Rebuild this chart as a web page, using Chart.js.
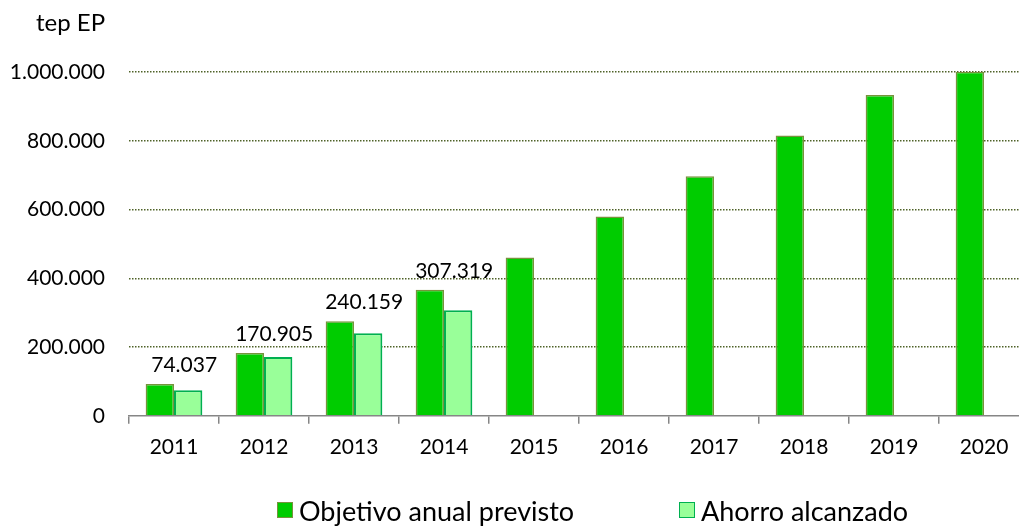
<!DOCTYPE html>
<html>
<head>
<meta charset="utf-8">
<script src="https://cdn.jsdelivr.net/npm/chart.js@4.4.1/dist/chart.umd.min.js"></script>
<style>
    body { margin: 0; background: #fff; overflow: hidden; }
    #wrap { position: relative; width: 1040px; height: 526px; }
    #unit { position: absolute; left: 36px; top: 7px; font: 24px Lato, sans-serif; color: #000; }
    .leg { position: absolute; top: 493px; height: 34px; display: flex; align-items: center; font: 27px Lato, sans-serif; line-height: 1; color: #000; white-space: nowrap; }
    .leg span.box { display: inline-block; width: 14px; height: 14px; margin-right: 6px; box-sizing: content-box; }
</style>
</head>
<body>
<div id="wrap">
    <canvas id="ahorroChart"></canvas>
    <div id="unit">tep EP</div>
    <div class="leg" id="leg0" style="left:277px"></div>
    <div class="leg" id="leg1" style="left:679px"></div>
</div>
<script>
// años del plan
const years = ['2011', '2012', '2013', '2014', '2015', '2016', '2017', '2018', '2019', '2020'];
// objetivo anual previsto (tep EP)
const objetivo = [92600, 183000, 275000, 367000, 460500, 580000, 697000, 815000, 933000, 1001000];
// ahorro alcanzado (tep EP)
const alcanzado = [74037, 170905, 240159, 307319, null, null, null, null, null, null];
const yTicks = [0, 200000, 400000, 600000, 800000, 1000000];

const fmt = v => String(v).replace(/\B(?=(\d{3})+(?!\d))/g, '.');

const valueLabels = {
    id: 'valueLabels',
    afterDatasetsDraw(chart) {
        const ctx = chart.ctx;
        const m0 = chart.getDatasetMeta(0);
        const m1 = chart.getDatasetMeta(1);
        ctx.save();
        ctx.font = '21px Lato';
        ctx.fillStyle = '#000';
        ctx.textAlign = 'center';
        ctx.textBaseline = 'alphabetic';
        for (var i = 0; i < alcanzado.length; i++) {
            if (alcanzado[i] == null) continue;
            ctx.fillText(fmt(alcanzado[i]), m1.data[i].x - 4, m0.data[i].y - 12);
        }
        ctx.restore();
    }
};

var ctx = document.getElementById('ahorroChart').getContext('2d');
var chart = new Chart(ctx, {
    type: 'bar',
    data: {
        labels: years,
        datasets: [{
            label: 'Objetivo anual previsto',
            data: objetivo,
            backgroundColor: '#00CC00',
            borderColor: '#77933C',
            borderWidth: 1.5
        },
        {
            label: 'Ahorro alcanzado',
            data: alcanzado,
            backgroundColor: '#99FF99',
            borderColor: '#00B050',
            borderWidth: 2
        }]
    },
    options: {
        responsive: true,
        maintainAspectRatio: false,
        animation: false,
        categoryPercentage: 0.63,
        barPercentage: 1,
        layout: { padding: { top: 72, right: 11, bottom: 55, left: 0 } },
        plugins: { legend: { display: false }, tooltip: { enabled: false } },
        scales: {
            x: {
                grid: { drawOnChartArea: false, color: '#868686', tickLength: 8, lineWidth: 1.5 },
                border: { color: '#868686', width: 1.5 },
                ticks: { color: '#000', font: { family: 'Lato', size: 21 }, padding: 11 }
            },
            y: {
                min: 0,
                max: 1000000,
                afterBuildTicks: scale => { scale.ticks = yTicks.map(v => ({ value: v })); },
                afterFit: scale => { scale.width = 129; },
                border: { display: false, dash: [1.5, 1.5] },
                grid: {
                    drawTicks: false,
                    color: c => c.tick.value === 0 ? 'rgba(0,0,0,0)' : '#4F6228',
                    lineWidth: 1.5
                },
                ticks: { color: '#000', font: { family: 'Lato', size: 21 }, padding: 24, callback: v => fmt(v) }
            }
        }
    },
    plugins: [valueLabels]
});

// leyenda
chart.data.datasets.forEach((ds, i) => {
    var el = document.getElementById('leg' + i);
    el.innerHTML = '<span class="box" style="background:' + ds.backgroundColor + ';border:1.5px solid ' + ds.borderColor + '"></span>' + ds.label;
});
</script>
</body>
</html>
